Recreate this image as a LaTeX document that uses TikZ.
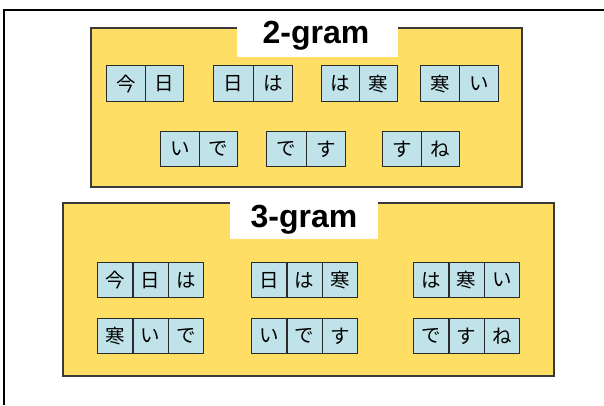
\documentclass[tikz,border=0pt]{standalone}
\usepackage{fontspec}
\setmainfont{Liberation Sans}
\newfontfamily\jpfont{Noto Sans CJK JP}
\definecolor{panelfill}{HTML}{FFDE66}
\definecolor{panelline}{HTML}{3A3A3A}
\definecolor{cellfill}{HTML}{C0E3EA}
\definecolor{cellline}{HTML}{2A2A2A}
\tikzset{
  panel/.style={draw=panelline, fill=panelfill, line width=1.7pt, inner sep=0pt, anchor=north west},
  cell/.style={draw=cellline, fill=cellfill, line width=1.4pt, inner sep=0pt, anchor=north west,
    font=\jpfont\fontsize{19.5}{19.5}\selectfont},
  titlebg/.style={fill=white, draw=none, inner sep=0pt, anchor=north west},
  titletext/.style={inner sep=0pt, anchor=base, font=\bfseries\fontsize{32}{32}\selectfont},
  frame/.style={draw=black, line width=1.5pt}
}
\newcommand\gramcells[6]{% name, left, top, cell width, height, chars
  \foreach \c [count=\i from 0] in {#6} {
    \node[cell, minimum width=#4pt, minimum height=#5pt] (#1-\i) at ({#2+#4*\i},#3) {\c};
  }}
\begin{document}
\begin{tikzpicture}[x=1pt,y=-1pt]
\useasboundingbox (0,0) rectangle (604,405);
\draw[frame] (604,10) -| (4,405);
% 2-gram panel
\node[panel, minimum width=431pt, minimum height=159pt] (p2) at (90,27) {};
\node[titlebg, minimum width=161pt, minimum height=38pt] (b2) at (237,19) {};
\node[titletext] (l2) at (316,43) {2-gram};
\gramcells{g1}{106}{65}{38.5}{36}{今,日}
\gramcells{g2}{213}{65}{39.5}{36}{日,は}
\gramcells{g3}{321}{65}{38}{36}{は,寒}
\gramcells{g4}{420}{65}{39}{36}{寒,い}
\gramcells{g5}{160}{131}{38.5}{35}{い,で}
\gramcells{g6}{266}{131}{39.5}{35}{で,す}
\gramcells{g7}{382}{131}{38.5}{35}{す,ね}
% 3-gram panel
\node[panel, minimum width=491pt, minimum height=173pt] (p3) at (62,202) {};
\node[titlebg, minimum width=148pt, minimum height=45pt] (b3) at (230,194) {};
\node[titletext] (l3) at (304,227) {3-gram};
\gramcells{t1}{97}{262}{35.33}{35}{今,日,は}
\gramcells{t2}{251}{262}{35.33}{35}{日,は,寒}
\gramcells{t3}{413}{262}{35.33}{35}{は,寒,い}
\gramcells{t4}{97}{318}{35.33}{35}{寒,い,で}
\gramcells{t5}{251}{318}{35.33}{35}{い,で,す}
\gramcells{t6}{413}{318}{35.33}{35}{で,す,ね}
\end{tikzpicture}
\end{document}
